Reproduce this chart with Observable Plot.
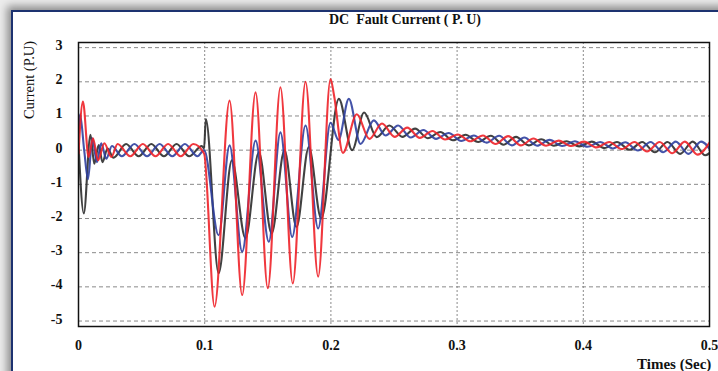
<!DOCTYPE html>
<html><head><meta charset="utf-8">
<script src="https://cdn.jsdelivr.net/npm/d3@7"></script>
<script src="https://cdn.jsdelivr.net/npm/@observablehq/plot@0.6"></script>
<style>
html,body{margin:0;padding:0;background:#fff;}
#wrap{position:relative;width:718px;height:371px;overflow:hidden;background:#ececec;font-family:"Liberation Serif","Times New Roman",serif;}
#panel{position:absolute;left:11px;top:10px;width:760px;height:420px;background:#fff;border-left:2px solid #1d3270;border-top:2px solid #1d3270;box-shadow:-4px -4px 8px rgba(0,0,0,0.4);}
#chart{position:absolute;left:0;top:0;}
.t{position:absolute;white-space:nowrap;color:#111;}
</style></head>
<body>
<div id="wrap">
  <div id="panel"></div>
  <div id="chart"></div>
  <div class="t" id="title" style="left:405px;top:20px;transform:translate(-50%,-50%);font-weight:bold;font-size:14px;">DC&nbsp; Fault Current ( P. U)</div>
  <div class="t" id="ylab" style="left:29px;top:80px;transform:translate(-50%,-50%) rotate(-90deg);font-size:14.5px;">Current (P.U)</div>
  <div class="t" id="xlab" style="left:637px;top:364px;transform:translate(0,-50%);font-weight:bold;font-size:15px;">Times (Sec)</div>
</div>
<script>
// tick values and labels
const xTicks = [0, 0.1, 0.2, 0.3, 0.4, 0.5];
const xTickLabels = ["0", "0.1", "0.2", "0.3", "0.4", "0.5"];
const yTicks = [3, 2, 1, 0, -1, -2, -3, -4, -5];
const yTickLabels = ["3", "2", "1", "0", "-1", "-2", "-3", "-4", "-5"];

// Phase currents (P.U) as [time (s), value] at turning points
const phaseBlack = [
  [0,0.2],[0.0042,-1.85],[0.0095,0.45],[0.0125,-0.4],[0.016,0.15],[0.019,-0.35],[0.023,0.05],[0.0277,-0.22],
  [0.0377,0.18],[0.0477,-0.18],[0.0577,0.18],[0.0677,-0.18],[0.0777,0.18],[0.0877,-0.18],[0.0977,0.12],[0.0995,0.05],
  [0.1009,0.91],[0.111,-3.6],[0.1215,-0.3],[0.1323,-2.58],[0.1429,-0.06],[0.153,-2.44],[0.1632,0.0],[0.1727,-2.25],
  [0.1825,0.09],[0.1923,-2.0],[0.2063,1.5],[0.2168,0.0],[0.2263,1.1],[0.2363,0.38],[0.2463,0.72],[0.2567,0.39],
  [0.2667,0.63],[0.2767,0.35],[0.2867,0.53],[0.2967,0.29],[0.3067,0.45],[0.3167,0.24],[0.3267,0.42],[0.3367,0.16],
  [0.3467,0.39],[0.3567,0.14],[0.3667,0.32],[0.3767,0.13],[0.3867,0.26],[0.3967,0.11],[0.4067,0.25],[0.4167,0.06],
  [0.4267,0.24],[0.4367,0.01],[0.4467,0.24],[0.4567,-0.06],[0.4667,0.24],[0.4767,-0.11],[0.4867,0.25],[0.4967,-0.15],
  [0.5067,0.25]
];
const phaseBlue = [
  [0,0.5],[0.0012,1.05],[0.0045,0.0],[0.0075,-0.85],[0.011,0.35],[0.0145,-0.35],[0.018,0.2],[0.022,-0.25],[0.0265,0.12],
  [0.0343,-0.18],[0.0443,0.18],[0.0543,-0.18],[0.0643,0.18],[0.0743,-0.18],[0.0843,0.18],[0.0943,-0.18],[0.0995,0.0],
  [0.111,-2.49],[0.1197,0.14],[0.1297,-2.97],[0.1403,0.28],[0.1508,-2.68],[0.16,0.52],[0.1693,-2.54],[0.1799,0.72],
  [0.1899,-2.29],[0.1997,0.8],[0.206,0.3],[0.2142,1.5],[0.2235,0.18],[0.234,0.87],[0.2433,0.43],[0.2533,0.72],
  [0.2633,0.37],[0.2733,0.59],[0.2833,0.33],[0.2933,0.5],[0.3033,0.27],[0.3133,0.43],[0.3233,0.22],[0.3333,0.42],
  [0.3433,0.14],[0.3533,0.37],[0.3633,0.13],[0.3733,0.3],[0.3833,0.12],[0.3933,0.26],[0.4033,0.1],[0.4133,0.24],
  [0.4233,0.05],[0.4333,0.23],[0.4433,-0.01],[0.4533,0.24],[0.4633,-0.06],[0.4733,0.25],[0.4833,-0.11],[0.4933,0.25],
  [0.5033,-0.15]
];
const phaseRed = [
  [0,-0.1],[0.0035,1.42],[0.008,-0.2],[0.0115,0.35],[0.0155,-0.3],[0.0205,0.2],[0.026,-0.2],
  [0.031,0.18],[0.041,-0.18],[0.051,0.18],[0.061,-0.18],[0.071,0.18],[0.081,-0.18],[0.091,0.18],[0.0995,-0.1],
  [0.1078,-4.58],[0.1197,1.45],[0.1297,-4.24],[0.1403,1.69],[0.15,-4.04],[0.16,1.84],[0.1698,-3.9],[0.1799,2.0],
  [0.1899,-3.7],[0.1997,2.08],[0.2025,1.6],[0.2095,-0.08],[0.2205,1.05],[0.2305,0.33],[0.2405,0.78],[0.2505,0.39],
  [0.2605,0.66],[0.2705,0.36],[0.2805,0.56],[0.2905,0.31],[0.3005,0.46],[0.3105,0.26],[0.3205,0.43],[0.3305,0.18],
  [0.3405,0.41],[0.3505,0.14],[0.3605,0.34],[0.3705,0.13],[0.3805,0.28],[0.3905,0.12],[0.4005,0.25],[0.4105,0.08],
  [0.4205,0.24],[0.4305,0.03],[0.4405,0.24],[0.4505,-0.04],[0.4605,0.24],[0.4705,-0.09],[0.4805,0.25],[0.4905,-0.13],
  [0.5005,0.25]
];

const lineOpts = (color) => ({x: d => d[0], y: d => d[1], stroke: color, strokeWidth: 2.1, curve: "monotone-x", clip: true, strokeOpacity: 0.9});

const chart = Plot.plot({
  width: 718, height: 371,
  marginLeft: 78, marginRight: 9, marginTop: 42, marginBottom: 45,
  style: {background: "transparent", fontFamily: "'Liberation Serif','Times New Roman',serif", color: "#111"},
  x: {domain: [0, 0.5]},
  y: {domain: [-5.16, 3.15]},
  marks: [
    Plot.ruleX(xTicks, {stroke: "#8a8a8a", strokeWidth: 1, strokeDasharray: "2,2"}),
    Plot.ruleY(yTicks, {stroke: "#8a8a8a", strokeWidth: 1, strokeDasharray: "4,3"}),
    Plot.line(phaseBlack, lineOpts("#2c2c2c")),
    Plot.line(phaseBlue, lineOpts("#3040a0")),
    Plot.line(phaseRed, lineOpts("#ee2229")),
    Plot.frame({stroke: "#111", strokeWidth: 1.5}),
    Plot.axisX({ticks: xTicks, tickFormat: (d, i) => xTickLabels[i], tickSize: 0, tickPadding: 14, fontSize: 14, fontWeight: "bold", label: null}),
    Plot.axisY({ticks: yTicks, tickFormat: (d, i) => yTickLabels[i], tickSize: 0, tickPadding: 16, dy: -2, fontSize: 14, fontWeight: "bold", label: null})
  ]
});
document.getElementById("chart").appendChild(chart);
</script>
</body></html>
